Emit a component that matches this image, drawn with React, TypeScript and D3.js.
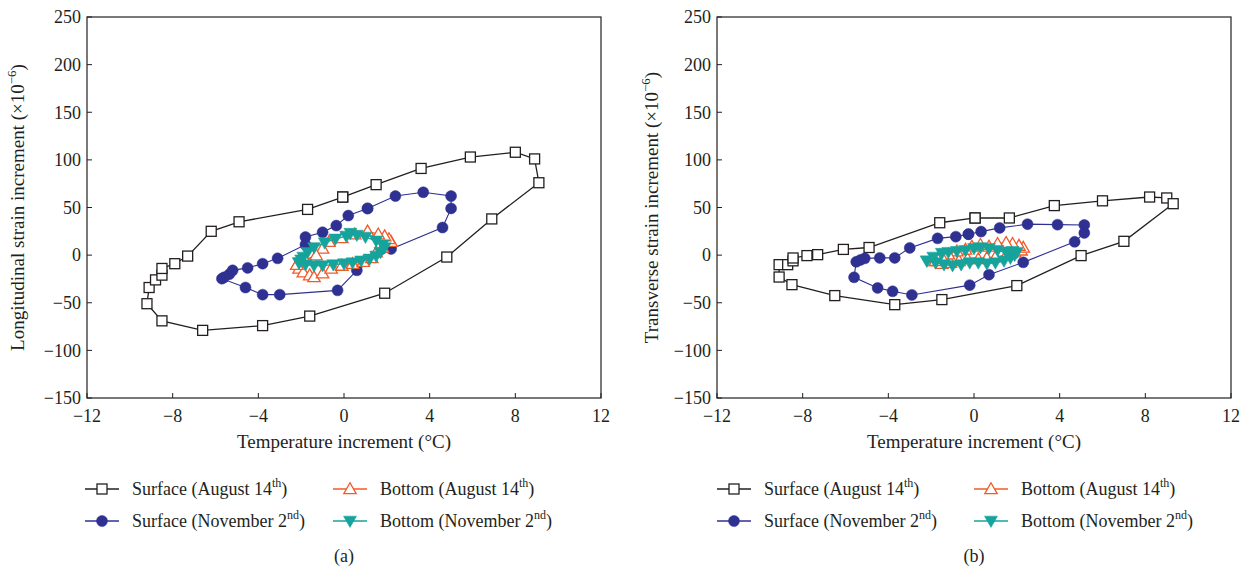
import React from "react";
import * as d3 from "d3";

type Pt = [number, number];

// ---------- Data (temperature increment °C, strain increment ×10^-6) ----------
const xTicks = [-12, -8, -4, 0, 4, 8, 12];
const yTicks = [-150, -100, -50, 0, 50, 100, 150, 200, 250];

// Panel (a) – longitudinal
const longSurfaceAug: Pt[] = [
  [-0.06, 61], [1.5, 74], [3.6, 91], [5.9, 103], [8.0, 108], [8.9, 101], [9.1, 76],
  [6.9, 38], [4.8, -2], [1.9, -40], [-1.6, -64], [-3.8, -74], [-6.6, -79], [-8.5, -69],
  [-9.2, -51], [-9.1, -34], [-8.8, -26], [-8.5, -21], [-8.5, -14], [-7.9, -9],
  [-7.3, -1], [-6.2, 25], [-4.9, 35], [-1.7, 48], [-0.06, 61],
];
const longSurfaceNov: Pt[] = [
  [1.1, 49], [2.4, 62], [3.7, 66], [5.0, 62], [5.0, 49], [4.6, 29], [2.2, 6.5],
  [0.6, -16], [-0.3, -37], [-3.0, -41.5], [-3.8, -41.5], [-4.6, -34], [-5.7, -24.7],
  [-5.6, -23.3], [-5.35, -20], [-5.2, -16], [-4.5, -13.4], [-3.8, -9], [-3.1, -3.4],
  [-1.8, 11], [-1.8, 19], [-1.0, 24], [-0.36, 31], [0.2, 41.5], [1.1, 49],
];
const longBottomAug: Pt[] = [
  [-2.2, -10], [-2.1, -14], [-1.9, -18], [-1.6, -21], [-1.4, -23], [-1.0, -19],
  [-0.6, -14], [-0.1, -11], [0.4, -9], [0.9, -7], [1.3, -3], [1.5, 3], [1.8, 8],
  [2.2, 14], [2.1, 17], [1.9, 20], [1.6, 22], [1.1, 25], [0.5, 22], [-0.1, 18],
  [-0.7, 14], [-1.0, 7], [-1.3, 0], [-1.8, -5], [-2.2, -10],
];
const longBottomNov: Pt[] = [
  [-2.1, -8], [-1.8, -10], [-1.4, -11], [-1.0, -11], [-0.5, -10], [0.0, -9], [0.4, -8],
  [0.8, -6], [1.2, -4], [1.5, -1], [1.7, 3], [1.9, 8], [1.8, 11], [1.5, 15], [1.0, 19],
  [0.6, 21], [0.3, 23], [0.1, 20], [-0.4, 17], [-0.9, 13], [-1.4, 8], [-1.7, 3],
  [-1.9, -2], [-2.0, -5], [-2.1, -8],
];

// Panel (b) – transverse
const tranSurfaceAug: Pt[] = [
  [0.05, 39], [1.65, 39], [3.75, 52], [6.0, 57], [8.2, 61], [9.0, 60], [9.3, 54],
  [7.0, 14.5], [5.0, -0.5], [2.0, -32], [-1.5, -46.7], [-3.7, -52], [-6.5, -42.5],
  [-8.5, -31], [-9.1, -23], [-9.1, -10], [-8.7, -10], [-8.45, -6], [-8.45, -3],
  [-7.8, -0.5], [-7.3, 0.5], [-6.1, 6], [-4.9, 8], [-1.6, 34], [0.05, 39],
];
const tranSurfaceNov: Pt[] = [
  [-0.26, 22], [0.33, 24.7], [1.2, 28.6], [2.5, 32.5], [3.9, 32], [5.15, 31.7],
  [5.15, 23.3], [4.7, 14], [2.3, -7.6], [0.7, -20.5], [-0.2, -31.5], [-2.9, -41.8],
  [-3.8, -38], [-4.5, -34.4], [-5.6, -23.3], [-5.5, -7], [-5.3, -5], [-5.1, -3.4],
  [-4.4, -2.9], [-3.7, -2.9], [-3.0, 7.6], [-1.7, 17.6], [-0.85, 19.4], [-0.26, 22],
];
const tranBottomAug: Pt[] = [
  [-1.8, -6], [-1.5, -9], [-1.1, -8], [-0.7, -6], [-0.3, -4], [0.2, -4], [0.6, -3],
  [1.0, -2], [1.5, 0], [1.9, 3], [2.2, 5], [2.3, 8], [2.1, 10], [1.8, 12], [1.5, 13],
  [1.1, 12], [0.7, 9], [0.3, 11], [-0.1, 9], [-0.4, 6], [-0.8, 4], [-1.2, 1],
  [-1.5, -2], [-1.7, -4], [-1.8, -6],
];
const tranBottomNov: Pt[] = [
  [-2.2, -6], [-1.8, -8], [-1.4, -10], [-1.0, -11], [-0.6, -10], [-0.2, -8], [0.2, -8],
  [0.6, -9], [1.0, -8], [1.4, -6], [1.7, -3], [1.9, 0], [2.0, 3], [1.8, 4], [1.5, 3],
  [1.1, 5], [0.7, 7], [0.3, 8], [0.0, 7], [-0.4, 5], [-0.8, 4], [-1.2, 3], [-1.5, 2],
  [-1.9, -2], [-2.2, -6],
];

const seriesNames = ["Surface (August 14", "Surface (November 2", "Bottom (August 14", "Bottom (November 2"];
const seriesSups = ["th", "nd", "th", "nd"];

// ---------- Styling ----------
const FONT = "'Liberation Serif', 'DejaVu Serif', serif";
const COLORS = ["#231f20", "#2e3192", "#f15a29", "#16a39b"];
const TEXT = "#231f20";

type Kind = "square" | "circle" | "tri-up" | "tri-down";
const KINDS: Kind[] = ["square", "circle", "tri-up", "tri-down"];

function Marker({ kind, x, y, color }: { kind: Kind; x: number; y: number; color: string }) {
  if (kind === "square") {
    return <rect x={x - 5} y={y - 5} width={10} height={10} fill="#fff" stroke={color} strokeWidth={1.3} />;
  }
  if (kind === "circle") {
    return <circle cx={x} cy={y} r={5.5} fill={color} stroke={color} strokeWidth={0.5} />;
  }
  if (kind === "tri-up") {
    const s = 6.2;
    const p = `M${x},${y - s} L${x + s},${y + s * 0.75} L${x - s},${y + s * 0.75} Z`;
    return <path d={p} fill="#fff" stroke={color} strokeWidth={1.3} />;
  }
  const s = 6.5;
  const p = `M${x},${y + s} L${x + s},${y - s * 0.75} L${x - s},${y - s * 0.75} Z`;
  return <path d={p} fill={color} stroke={color} strokeWidth={0.5} />;
}

interface PanelProps {
  left: number;
  right: number;
  top: number;
  bottom: number;
  yLabel: string;
  yLabelOffset: number;
  series: Pt[][];
  tag: string;
  legendX: number[];
}

function Panel({ left, right, top, bottom, yLabel, yLabelOffset, series, tag, legendX }: PanelProps) {
  const x = d3.scaleLinear().domain([-12, 12]).range([left, right]);
  const y = d3.scaleLinear().domain([-150, 250]).range([bottom, top]);
  const line = d3.line<Pt>().x((d) => x(d[0])).y((d) => y(d[1]));
  const cx = (left + right) / 2;
  const cy = (top + bottom) / 2;
  const legendRows = [489, 521];

  return (
    <g>
      <rect x={left} y={top} width={right - left} height={bottom - top} fill="none" stroke={TEXT} strokeWidth={1.2} />
      {yTicks.map((t) => (
        <g key={"y" + t}>
          <line x1={left} x2={left + 5} y1={y(t)} y2={y(t)} stroke={TEXT} strokeWidth={1} />
          <text x={left - 6} y={y(t)} dy="0.35em" textAnchor="end" fontSize={18} fontFamily={FONT} fill={TEXT}>
            {t < 0 ? "\u2212" + Math.abs(t) : String(t)}
          </text>
        </g>
      ))}
      {xTicks.map((t) => (
        <g key={"x" + t}>
          <line x1={x(t)} x2={x(t)} y1={bottom} y2={bottom - 5} stroke={TEXT} strokeWidth={1} />
          <text x={x(t)} y={bottom + 24} textAnchor="middle" fontSize={18} fontFamily={FONT} fill={TEXT}>
            {t < 0 ? "\u2212" + Math.abs(t) : String(t)}
          </text>
        </g>
      ))}
      <text x={cx} y={bottom + 50} textAnchor="middle" fontSize={19} fontFamily={FONT} fill={TEXT}>
        Temperature increment (°C)
      </text>
      <text
        transform={`translate(${left - yLabelOffset},${cy}) rotate(-90)`}
        textAnchor="middle"
        fontSize={19}
        fontFamily={FONT}
        fill={TEXT}
      >
        {yLabel} (×10
        <tspan fontSize={13} dy={-8}>{"\u22126"}</tspan>
        <tspan dy={8}>)</tspan>
      </text>
      {series.map((data, i) => (
        <g key={"s" + i}>
          <path d={line(data) || ""} fill="none" stroke={COLORS[i]} strokeWidth={i === 1 ? 1.1 : 1.3} />
          {data.map((d, j) => (
            <Marker key={j} kind={KINDS[i]} x={x(d[0])} y={y(d[1])} color={COLORS[i]} />
          ))}
        </g>
      ))}
      {seriesNames.map((name, i) => {
        const col = i < 2 ? 0 : 1;
        const row = i % 2;
        const lx = legendX[col];
        const ly = legendRows[row];
        return (
          <g key={"l" + i}>
            <line x1={lx} x2={lx + 34} y1={ly} y2={ly} stroke={COLORS[i]} strokeWidth={1.3} />
            <Marker kind={KINDS[i]} x={lx + 17} y={ly} color={COLORS[i]} />
            <text x={lx + 47} y={ly} dy="0.32em" fontSize={18} fontFamily={FONT} fill={TEXT}>
              {name}
              <tspan fontSize={12} dy={-8}>{seriesSups[i]}</tspan>
              <tspan dy={8}>)</tspan>
            </text>
          </g>
        );
      })}
      <text x={cx} y={562} textAnchor="middle" fontSize={18} fontFamily={FONT} fill={TEXT}>
        {tag}
      </text>
    </g>
  );
}

export default function App() {
  return (
    <svg
      width={1252}
      height={573}
      viewBox="0 0 1252 573"
      style={{ position: "absolute", left: 0, top: 0, background: "#fff" }}
    >
      <rect x={0} y={0} width={1252} height={573} fill="#fff" />
      <Panel
        left={87}
        right={601}
        top={17}
        bottom={398}
        yLabel="Longitudinal strain increment"
        yLabelOffset={63}
        series={[longSurfaceAug, longSurfaceNov, longBottomAug, longBottomNov]}
        tag="(a)"
        legendX={[85, 333]}
      />
      <Panel
        left={717}
        right={1231}
        top={17}
        bottom={398}
        yLabel="Transverse strain increment"
        yLabelOffset={59}
        series={[tranSurfaceAug, tranSurfaceNov, tranBottomAug, tranBottomNov]}
        tag="(b)"
        legendX={[717, 974]}
      />
    </svg>
  );
}
